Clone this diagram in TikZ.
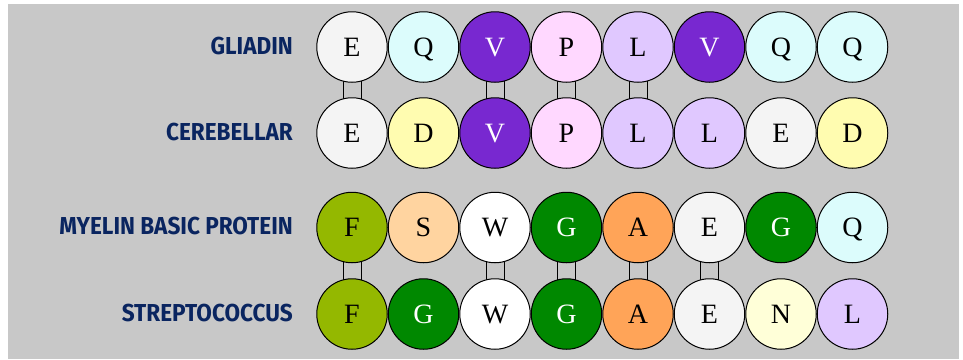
\documentclass[tikz,border=0pt]{standalone}
\usepackage{fontspec}
\setmainfont{Liberation Serif}
\newfontfamily\labelfont[FakeStretch=0.92]{Fira Sans}
\usepackage{tikz}
\usetikzlibrary{backgrounds}
\definecolor{bggray}{HTML}{C8C8C8}
\definecolor{navy}{HTML}{0A2560}
\definecolor{colE}{HTML}{F4F4F4}
\definecolor{colQ}{HTML}{DCFCFC}
\definecolor{colV}{HTML}{7828D0}
\definecolor{colP}{HTML}{FFD8FF}
\definecolor{colL}{HTML}{E0C8FF}
\definecolor{colD}{HTML}{FFFCB0}
\definecolor{colF}{HTML}{94B800}
\definecolor{colS}{HTML}{FFD4A0}
\definecolor{colG}{HTML}{008800}
\definecolor{colA}{HTML}{FFA458}
\definecolor{colN}{HTML}{FFFFD8}
\tikzset{
  resE/.style={fill=colE}, resQ/.style={fill=colQ},
  resV/.style={fill=colV, text=white}, resP/.style={fill=colP},
  resL/.style={fill=colL}, resD/.style={fill=colD},
  resF/.style={fill=colF}, resS/.style={fill=colS},
  resW/.style={fill=white}, resG/.style={fill=colG, text=white},
  resA/.style={fill=colA}, resN/.style={fill=colN}
}

\begin{document}
\begin{tikzpicture}[x=1pt, y=-1pt,
  res/.style={circle, draw, line width=1pt, minimum size=70.5pt, inner sep=0pt,
    text height=18pt, text depth=0pt, font=\fontsize{28}{28}\selectfont},
  seq/.style={anchor=east, inner sep=0pt, text=navy,
    font=\labelfont\bfseries\fontsize{24.5}{24.5}\selectfont},
  bond/.style={line width=1pt}]
\useasboundingbox (0,0) rectangle (963,359);

\node[seq] (GL) at (293,46) {GLIADIN};
\node[seq] (CE) at (293,132) {CEREBELLAR};
\node[seq] (MY) at (293,226) {MYELIN BASIC PROTEIN};
\node[seq] (ST) at (293,313) {STREPTOCOCCUS};

\foreach \l [count=\i] in {E,Q,V,P,L,V,Q,Q}
  \node[res, res\l] (g\i) at ({280.5+71.5*\i},47) {\l};
\foreach \l [count=\i] in {E,D,V,P,L,L,E,D}
  \node[res, res\l] (c\i) at ({280.5+71.5*\i},133) {\l};
\foreach \l [count=\i] in {F,S,W,G,A,E,G,Q}
  \node[res, res\l] (m\i) at ({280.5+71.5*\i},227.5) {\l};
\foreach \l [count=\i] in {F,G,W,G,A,E,N,L}
  \node[res, res\l] (s\i) at ({280.5+71.5*\i},314) {\l};

% matching residues
\begin{scope}[on background layer]
\fill[bggray] (8,4) rectangle (959,359);
\foreach \i in {1,3,4,5}
  \draw[bond] ([xshift=-9pt]g\i.center) -- ([xshift=-9pt]c\i.center)
              ([xshift=9pt]g\i.center) -- ([xshift=9pt]c\i.center);
\foreach \i in {1,3,4,5,6}
  \draw[bond] ([xshift=-9pt]m\i.center) -- ([xshift=-9pt]s\i.center)
              ([xshift=9pt]m\i.center) -- ([xshift=9pt]s\i.center);
\end{scope}
\end{tikzpicture}
\end{document}
